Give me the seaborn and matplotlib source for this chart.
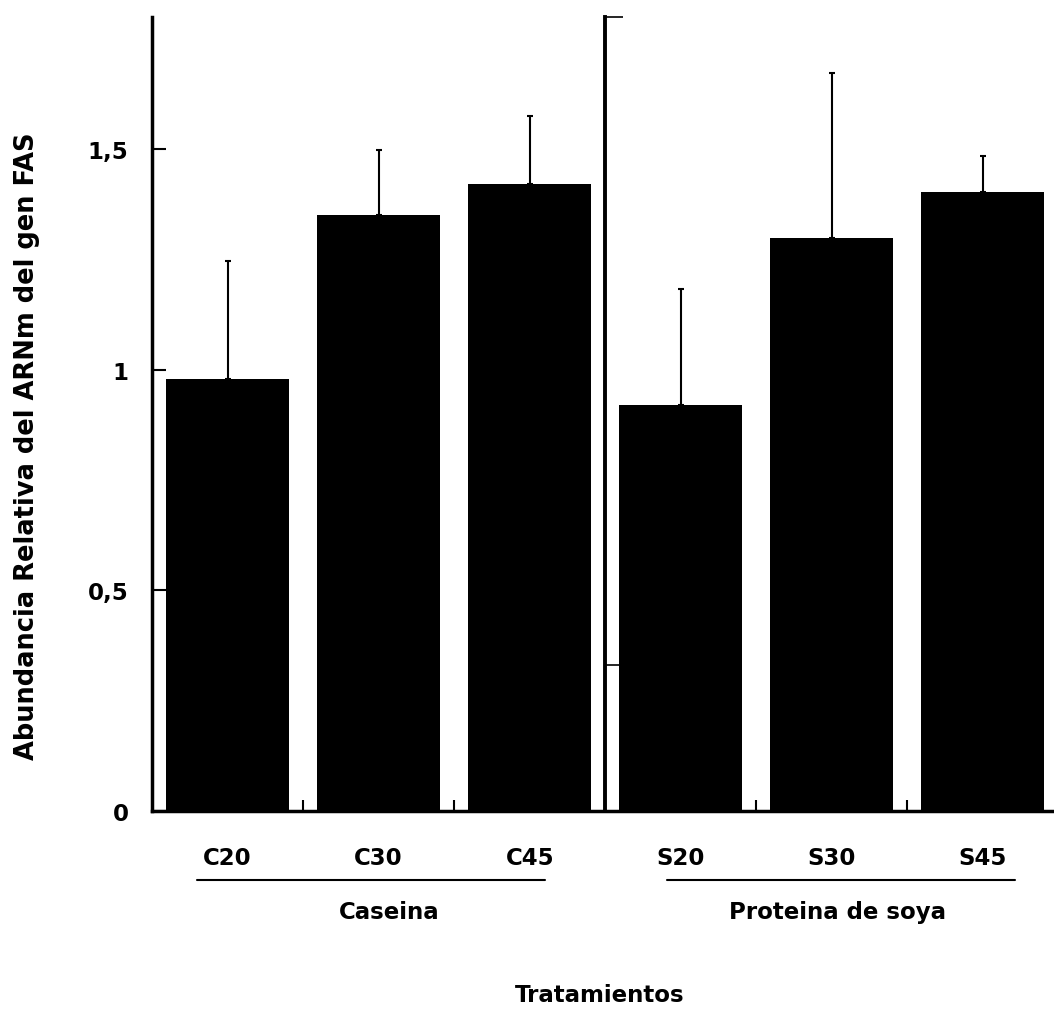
import matplotlib
matplotlib.use("Agg")
import matplotlib.pyplot as plt
import seaborn as sns
import pandas as pd
import numpy as np

# ---- data ----
categories = ["C20", "C30", "C45", "S20", "S30", "S45"]
means = [0.980, 1.352, 1.421, 0.921, 1.300, 1.403]
upper = [1.247, 1.498, 1.575, 1.184, 1.674, 1.484]
groups = ["Caseina", "Proteina de soya"]
yticks = [0, 0.5, 1, 1.5]
ytick_labels = ["0", "0,5", "1", "1,5"]
divider_ticks = [0.33, 1.8]

errs = [u - m for u, m in zip(upper, means)]
df = pd.DataFrame({"cat": categories, "val": means})

sns.set_theme(style="white")
plt.rcParams['font.family'] = ['DejaVu Sans']
for k in ["text.color", "axes.labelcolor", "xtick.color", "ytick.color", "axes.edgecolor"]:
    plt.rcParams[k] = "black"

fig = plt.figure(figsize=(10.54, 10.12), dpi=100)
ax = fig.add_axes([152/1054, (1012-812)/1012, 1 - 152/1054 - 0.0005, (812-18)/1012])

sns.barplot(data=df, x="cat", y="val", order=categories, color="black",
            width=0.815, errorbar=None, ax=ax, saturation=1, edgecolor="none")
xpos = np.arange(len(categories))
ax.errorbar(xpos, means, yerr=[np.zeros(len(errs)), errs], fmt="none",
            ecolor="black", elinewidth=1.5, capsize=2.2, capthick=1.5, zorder=3)

ax.set_xlim(-0.5, 5.467)
ax.set_ylim(0, 1.8)
ax.set_yticks(yticks)
ax.set_yticklabels(ytick_labels, fontsize=16.5, fontweight="bold")
ax.set_xticks(xpos)
ax.set_xticklabels(categories, fontsize=16.5, fontweight="bold")
ax.set_xlabel("")
ax.set_ylabel("Abundancia Relativa del ARNm del gen FAS", fontsize=18.5,
              fontweight="bold", va="center")
ax.yaxis.set_label_coords((27 - 152) / 902, (812 - 446) / 794)

for s in ["top", "right"]:
    ax.spines[s].set_visible(False)
ax.spines["left"].set_linewidth(2.5)
ax.spines["bottom"].set_linewidth(2.5)

ax.tick_params(axis="y", direction="in", length=10, width=1.5, pad=17, left=True)
ax.tick_params(axis="x", which="major", length=0, pad=25)

# inward ticks between bars on x axis
ax.set_xticks([0.5, 1.5, 3.5, 4.5], minor=True)
ax.tick_params(axis="x", which="minor", direction="in", length=8, width=1.5, bottom=True)

# divider axis between groups
sec = ax.secondary_yaxis((605 - 152) / (1054 - 152))
sec.set_yticks(divider_ticks)
sec.set_yticklabels(["", ""])
for sp in sec.spines.values():
    sp.set_linewidth(2.8)
    sp.set_color("black")
sec.tick_params(axis="y", which="both", left=False, right=True, direction="out",
                length=13, width=1.2, color="black", labelleft=False, labelright=False)

# group labels and underlines
trans = ax.get_xaxis_transform()
ax.plot([-0.2, 2.1], [-0.0865, -0.0865], transform=trans, color="black", lw=1.5, clip_on=False)
ax.plot([2.91, 5.21], [-0.0865, -0.0865], transform=trans, color="black", lw=1.5, clip_on=False)
ax.text(1.07, -0.126, groups[0], transform=trans, ha="center", va="center",
        fontsize=16.5, fontweight="bold", clip_on=False)
ax.text(4.04, -0.126, groups[1], transform=trans, ha="center", va="center",
        fontsize=16.5, fontweight="bold", clip_on=False)

fig.text(600/1054, 1 - 996/1012, "Tratamientos", ha="center", va="center",
         fontsize=16.5, fontweight="bold")

fig.savefig("out.png", dpi=100, facecolor="white")
